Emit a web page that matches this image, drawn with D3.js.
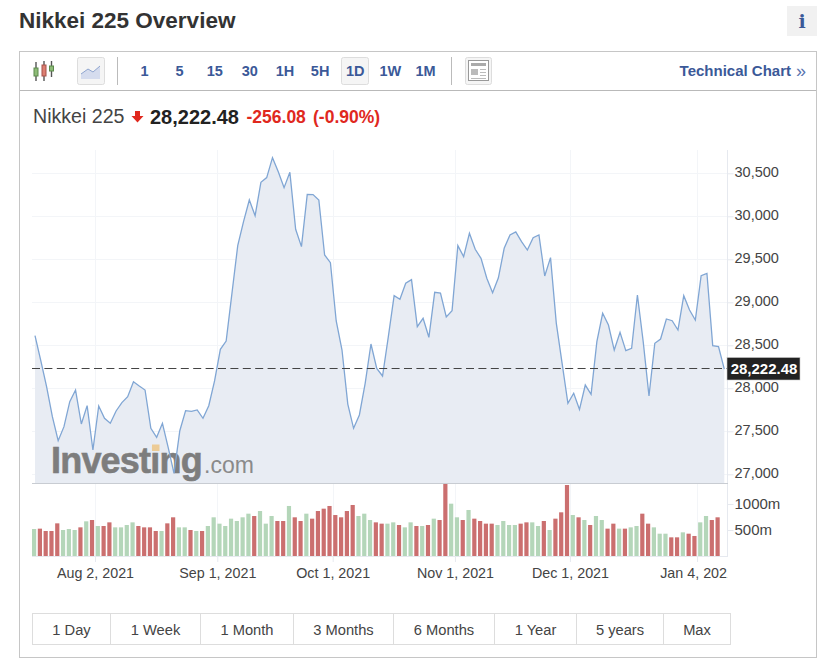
<!DOCTYPE html>
<html>
<head>
<meta charset="utf-8">
<title>Nikkei 225 Overview</title>
<script src="https://cdn.jsdelivr.net/npm/d3@7"></script>
<style>
  html, body { margin: 0; padding: 0; background: #fff; }
  svg { display: block; }
  text { font-family: "Liberation Sans", Arial, sans-serif; }
</style>
</head>
<body>
<div id="wrapper"></div>
<script>
// daily close
const closes = [
  28612, 28321, 28019, 27670, 27391, 27554, 27845, 27980, 27585, 27798,
  27283, 27794, 27651, 27593, 27736, 27833, 27903, 28077, 28027, 27980,
  27535, 27430, 27593, 27310, 27011, 27507, 27740, 27732, 27748, 27651,
  27798, 28085, 28453, 28550, 29104, 29659, 29938, 30190, 30007, 30395,
  30450, 30682, 30519, 30333, 30511, 29849, 29647, 30255, 30252, 30190,
  29550, 29461, 28783, 28445, 27817, 27535, 27690, 28058, 28515, 28232,
  28143, 28600, 29077, 29035, 29221, 29263, 28717, 28814, 28593, 29116,
  29108, 28829, 28903, 29659, 29531, 29802, 29616, 29511, 29279, 29112,
  29285, 29628, 29783, 29818, 29705, 29608, 29752, 29783, 29306, 29519,
  28755, 28290, 27825, 27942, 27755, 28038, 27930, 28542, 28872, 28736,
  28445, 28651, 28438, 28465, 29085, 28542, 27911, 28523, 28573, 28806,
  28786, 28678, 29077, 28911, 28794, 29310, 29337, 28496, 28484, 28222.48
];

// volume in millions
const volumes = [
  519, 526, 481, 481, 628, 500, 519, 500, 551, 667,
  692, 577, 577, 647, 551, 551, 596, 647, 577, 551,
  551, 481, 481, 628, 744, 551, 551, 500, 481, 481,
  577, 744, 622, 577, 718, 673, 744, 814, 769, 865,
  622, 769, 673, 673, 962, 744, 673, 814, 718, 865,
  910, 962, 788, 744, 865, 981, 769, 814, 692, 647,
  622, 622, 647, 596, 551, 647, 577, 577, 596, 718,
  692, 1397, 1006, 744, 692, 885, 718, 673, 622, 622,
  596, 673, 596, 596, 622, 647, 647, 577, 673, 500,
  718, 840, 1365, 788, 744, 692, 596, 769, 692, 526,
  622, 526, 526, 551, 577, 814, 622, 551, 429, 429,
  359, 359, 455, 429, 385, 647, 769, 692, 744
];

// g = up day, r = down day
const volumeDirs = (
  "g r r r r g g g r g r g r r g g g g r r r r g r r g g r g r g g g g g g g g r g g g r r g " +
  "r r g r r r r r r r r g g g r r g g r g g r g r g r r g g r g r r r r g g g g r r g g r g " +
  "r r r g r g r g g r r g r g g r r g g g r r g r r g g r r"
).split(" ");

const priceTicks = [27000, 27500, 28000, 28500, 29000, 29500, 30000, 30500];
const volumeTicks = [500, 1000];
const dateLabels = ["Aug 2, 2021", "Sep 1, 2021", "Oct 1, 2021", "Nov 1, 2021", "Dec 1, 2021", "Jan 4, 2021"];
const dateIndexes = [10.36, 31.47, 51.39, 72.5, 92.35, 114.3];
const lastPrice = 28222.48;
const intervals = ["1", "5", "15", "30", "1H", "5H", "1D", "1W", "1M"];
const ranges = ["1 Day", "1 Week", "1 Month", "3 Months", "6 Months", "1 Year", "5 years", "Max"];
const rangeEdges = [32.5, 110.5, 200.5, 293.5, 393.5, 494.5, 576.5, 663.5, 730.5];

const blue = "#3b5998";

const svg = d3.select("#wrapper").append("svg")
  .attr("width", 832)
  .attr("height", 669);

// header
svg.append("text").attr("x", 19).attr("y", 28)
  .attr("font-size", 22.5).attr("font-weight", "bold").attr("fill", "#333")
  .text("Nikkei 225 Overview");
svg.append("rect").attr("x", 787).attr("y", 6).attr("width", 30).attr("height", 30).attr("fill", "#f1f1f1");
svg.append("text").attr("x", 802).attr("y", 28).attr("text-anchor", "middle")
  .style("font-family", "'DejaVu Serif', serif")
  .attr("font-size", 19).attr("font-weight", "bold").attr("fill", blue)
  .text("i");

// panel
svg.append("rect").attr("x", 19.5).attr("y", 51.5).attr("width", 797).attr("height", 606)
  .attr("fill", "none").attr("stroke", "#c6c6c6");
svg.append("line").attr("x1", 20).attr("x2", 816).attr("y1", 90.5).attr("y2", 90.5).attr("stroke", "#b9b9b9");

// toolbar
const iconButton = (x, w) => svg.append("rect").attr("x", x).attr("y", 57.5).attr("width", w).attr("height", 27).attr("rx", 2)
  .attr("fill", "#f5f5f5").attr("stroke", "#ddd");

const candleIcon = svg.append("g");
[[36, 62, 81, 68, 76, "#8dbb77", "#5d8a4d"], [44, 61, 81, 65, 76, "#dd7f72", "#a5534b"], [51.5, 61, 77, 66, 71, "#8dbb77", "#5d8a4d"]].forEach(c => {
  candleIcon.append("line").attr("x1", c[0]).attr("x2", c[0]).attr("y1", c[1]).attr("y2", c[2])
    .attr("stroke", "#555").attr("stroke-width", 1.4);
  candleIcon.append("rect").attr("x", c[0] - 2).attr("y", c[3]).attr("width", 4).attr("height", c[4] - c[3])
    .attr("fill", c[5]).attr("stroke", c[6]);
});

iconButton(77.5, 27);
svg.append("path").attr("d", "M81 74 L88 69 L93 72 L100 66 L100 79 L81 79 Z").attr("fill", "#d5dcee");
svg.append("path").attr("d", "M81 74 L88 69 L93 72 L100 66").attr("fill", "none").attr("stroke", "#8fa5cf");

[117.5, 451.5].forEach(x => {
  svg.append("line").attr("x1", x).attr("x2", x).attr("y1", 57).attr("y2", 85).attr("stroke", "#bbb");
});

iconButton(341.5, 27);
const intervalX = d3.scalePoint().domain(intervals).range([144.5, 425.5]);
svg.selectAll(".interval").data(intervals).join("text")
  .attr("class", "interval")
  .attr("x", d => intervalX(d)).attr("y", 76)
  .attr("text-anchor", "middle")
  .attr("font-size", 14.5).attr("font-weight", "bold").attr("fill", blue)
  .text(d => d);

iconButton(465.5, 26);
svg.append("rect").attr("x", 468.5).attr("y", 60.5).attr("width", 20).attr("height", 20).attr("fill", "#fff").attr("stroke", "#999");
svg.append("rect").attr("x", 471).attr("y", 63).attr("width", 15).attr("height", 3).attr("fill", "#aaa");
svg.append("rect").attr("x", 471).attr("y", 69).attr("width", 7).attr("height", 6).attr("fill", "#bbb");
[69, 72, 75, 78].forEach(y => {
  svg.append("rect").attr("x", y === 78 ? 471 : 480).attr("y", y).attr("width", y === 78 ? 15 : 6).attr("height", 1).attr("fill", "#bbb");
});

svg.append("text").attr("x", 791).attr("y", 76).attr("text-anchor", "end")
  .attr("font-size", 15).attr("font-weight", "bold").attr("fill", blue)
  .text("Technical Chart");
svg.append("text").attr("x", 796).attr("y", 77)
  .attr("font-size", 18).attr("fill", "#5b75b0")
  .text("»");

// quote line
svg.append("text").attr("x", 33).attr("y", 122.5)
  .attr("font-size", 19.6).attr("fill", "#444")
  .text("Nikkei 225");
svg.append("path").attr("d", "M135 111 L140 111 L140 116 L143.5 116 L137.5 122.5 L131.5 116 L135 116 Z").attr("fill", "#e0281e");
svg.append("text").attr("x", 150).attr("y", 123.5)
  .attr("font-size", 20).attr("font-weight", "bold").attr("fill", "#222")
  .text(d3.format(",.2f")(lastPrice));
svg.append("text").attr("x", 246.5).attr("y", 122.5)
  .attr("font-size", 17.5).attr("font-weight", "bold").attr("fill", "#e0281e")
  .text("-256.08");
svg.append("text").attr("x", 313).attr("y", 122.5)
  .attr("font-size", 17.5).attr("font-weight", "bold").attr("fill", "#e0281e")
  .text("(-0.90%)");

// scales
const xScale = d3.scaleLinear().domain([0, closes.length - 1]).range([35, 724.3]);
const yScale = d3.scaleLinear().domain([27000, 30500]).range([474.3, 173.3]);
const volumeScale = d3.scaleLinear().domain([0, 1000]).range([556, 504]);

svg.append("clipPath").attr("id", "volumeClip")
  .append("rect").attr("x", 30).attr("y", 484).attr("width", 698).attr("height", 72);
svg.append("clipPath").attr("id", "dateClip")
  .append("rect").attr("x", 20).attr("y", -6).attr("width", 708).attr("height", 40);

// grid
svg.append("g").selectAll("line").data(priceTicks).join("line")
  .attr("x1", 32).attr("x2", 727)
  .attr("y1", d => Math.round(yScale(d)) + 0.5).attr("y2", d => Math.round(yScale(d)) + 0.5)
  .attr("stroke", "#f3f5f8");
svg.append("g").selectAll("line").data(dateIndexes).join("line")
  .attr("x1", d => Math.round(xScale(d)) + 0.5).attr("x2", d => Math.round(xScale(d)) + 0.5)
  .attr("y1", 150).attr("y2", 556)
  .attr("stroke", "#f3f5f8");

// area and line
const area = d3.area()
  .x((d, i) => xScale(i))
  .y0(483.5)
  .y1(d => yScale(d));
const line = d3.line()
  .x((d, i) => xScale(i))
  .y(d => yScale(d));

svg.append("path").attr("d", area(closes)).attr("fill", "#e8ecf3");

// watermark
const mark = svg.append("g").attr("fill", "#7d7d7d");
mark.append("text").attr("x", 51).attr("y", 472.7)
  .attr("font-size", 36).attr("font-weight", "bold").attr("letter-spacing", -0.8)
  .attr("stroke", "#7d7d7d").attr("stroke-width", 0.6)
  .text("Investing");
mark.append("text").attr("x", 204).attr("y", 472.7)
  .attr("font-size", 23).attr("fill", "#8a8a8a")
  .text(".com");
svg.append("rect").attr("x", 152).attr("y", 444.5).attr("width", 7.5).attr("height", 6.5).attr("fill", "#eccb96");

svg.append("path").attr("d", line(closes))
  .attr("fill", "none").attr("stroke", "#80a6d4").attr("stroke-width", 1.3);

// price axis
const priceAxis = d3.axisRight(yScale)
  .tickValues(priceTicks)
  .tickFormat(d3.format(","))
  .tickSize(6)
  .tickPadding(1);
const priceG = svg.append("g").attr("transform", "translate(727.5,0)").call(priceAxis);
priceG.select(".domain").remove();
priceG.selectAll("line").attr("stroke", "#e6e9ef");
priceG.selectAll("text").attr("font-size", 14.5).attr("fill", "#444").attr("dy", "0.25em")
  .style("font-family", "'Liberation Sans', Arial, sans-serif");

// volume bars
svg.append("g").attr("clip-path", "url(#volumeClip)")
  .selectAll("rect").data(volumes).join("rect")
  .attr("x", (d, i) => xScale(i) - 3)
  .attr("y", d => volumeScale(d))
  .attr("width", 4.2)
  .attr("height", d => volumeScale(0) - volumeScale(d))
  .attr("fill", (d, i) => volumeDirs[i] === "g" ? "#b4d6b9" : "#cb6f6f");

// volume axis
const volumeAxis = d3.axisRight(volumeScale)
  .tickValues(volumeTicks)
  .tickFormat(d => d + "m")
  .tickSize(6)
  .tickPadding(1);
const volumeG = svg.append("g").attr("transform", "translate(727.5,0)").call(volumeAxis);
volumeG.select(".domain").remove();
volumeG.selectAll("line").attr("stroke", "#e6e9ef");
volumeG.selectAll("text").attr("font-size", 15).attr("fill", "#444")
  .style("font-family", "'Liberation Sans', Arial, sans-serif");

// frame lines of the plot
svg.append("line").attr("x1", 727.5).attr("x2", 727.5).attr("y1", 150).attr("y2", 556).attr("stroke", "#e6e9ef");
svg.append("line").attr("x1", 32).attr("x2", 728).attr("y1", 483.5).attr("y2", 483.5).attr("stroke", "#c8ccd2");
svg.append("line").attr("x1", 32).attr("x2", 728).attr("y1", 556.5).attr("y2", 556.5).attr("stroke", "#e6e9ef");

// date axis, last label is cut off at the plot edge
const dateAxis = d3.axisBottom(xScale)
  .tickValues(dateIndexes)
  .tickFormat((d, i) => dateLabels[i])
  .tickSize(6)
  .tickPadding(6);
const dateG = svg.append("g").attr("transform", "translate(0,556)")
  .attr("clip-path", "url(#dateClip)")
  .call(dateAxis);
dateG.select(".domain").remove();
dateG.selectAll("line").attr("stroke", "#e6e9ef");
dateG.selectAll("text").attr("font-size", 14.3).attr("fill", "#444")
  .style("font-family", "'Liberation Sans', Arial, sans-serif");

// last price line and label
svg.append("line").attr("x1", 32).attr("x2", 727)
  .attr("y1", 368.5).attr("y2", 368.5)
  .attr("stroke", "#444").attr("stroke-dasharray", "8,4.4");
svg.append("rect").attr("x", 727).attr("y", 357.5).attr("width", 73).attr("height", 22.5)
  .attr("fill", "#222").attr("stroke", "#c8c8c8").attr("stroke-width", 0.6);
svg.append("text").attr("x", 764).attr("y", 374).attr("text-anchor", "middle")
  .attr("font-size", 15).attr("font-weight", "bold").attr("fill", "#fff")
  .text(d3.format(",.2f")(lastPrice));

// range buttons
const rangeG = svg.append("g");
rangeG.append("rect").attr("x", rangeEdges[0]).attr("y", 613.5)
  .attr("width", rangeEdges[rangeEdges.length - 1] - rangeEdges[0]).attr("height", 31)
  .attr("fill", "#fff").attr("stroke", "#ddd");
rangeG.selectAll("line").data(rangeEdges.slice(1, -1)).join("line")
  .attr("x1", d => d).attr("x2", d => d).attr("y1", 614).attr("y2", 644)
  .attr("stroke", "#ddd");
rangeG.selectAll("text").data(ranges).join("text")
  .attr("x", (d, i) => (rangeEdges[i] + rangeEdges[i + 1]) / 2)
  .attr("y", 635)
  .attr("text-anchor", "middle")
  .attr("font-size", 14.7).attr("fill", "#444")
  .text(d => d);
</script>
</body>
</html>
